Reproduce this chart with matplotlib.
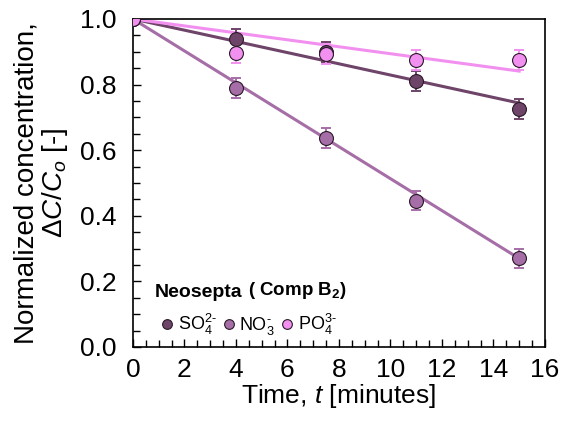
import numpy as np
import matplotlib
matplotlib.use("Agg")
import matplotlib.pyplot as plt
from matplotlib.ticker import MultipleLocator, FormatStrFormatter

plt.rcParams['font.family'] = ['Liberation Sans', 'DejaVu Sans']
plt.rcParams['mathtext.fontset'] = 'custom'
plt.rcParams['mathtext.rm'] = 'Liberation Sans'
plt.rcParams['mathtext.it'] = 'Liberation Sans:italic'
plt.rcParams['mathtext.bf'] = 'Liberation Sans:bold'

# sampling times (minutes)
t = [0, 4, 7.5, 11, 15]

# normalized concentrations per ion
so4 = [1.0, 0.938, 0.900, 0.810, 0.726]
no3 = [1.0, 0.790, 0.638, 0.446, 0.270]
po4 = [1.0, 0.895, 0.893, 0.875, 0.874]
err = [0.0, 0.03, 0.03, 0.03, 0.03]

# linear fits (intercept 1, slope per minute)
slopes = {'so4': -0.0171, 'no3': -0.0487, 'po4': -0.0106}

labels = ['SO$_4^{2\u2010}$', 'NO$_3^{\u2010}$', 'PO$_4^{3\u2010}$']
colors = ['#6e4469', '#a66ea7', '#f290f0']

fig = plt.figure(figsize=(5.63, 4.21), dpi=100)
ax = fig.add_axes([0.236, 0.176, 0.732, 0.779])

t_fit = np.array([0, 15])
for key, y, c, lab in zip(['so4', 'no3', 'po4'], [so4, no3, po4], colors, labels):
    ax.plot(t_fit, 1 + slopes[key] * t_fit, color=c, lw=2.2, zorder=2)
    ax.errorbar(t, y, yerr=err, fmt='none', ecolor=c, elinewidth=1.4,
                capsize=3.6, capthick=1.4, zorder=3)
    ax.plot(t, y, 'o', ms=10, mfc=c, mec='#2a1a28', mew=0.8, zorder=4)

ax.set_xlim(0, 16)
ax.set_ylim(0, 1.0)
ax.xaxis.set_major_locator(MultipleLocator(2))
ax.xaxis.set_minor_locator(MultipleLocator(0.5))
ax.yaxis.set_major_locator(MultipleLocator(0.2))
ax.yaxis.set_minor_locator(MultipleLocator(0.05))
ax.yaxis.set_major_formatter(FormatStrFormatter('%.1f'))
ax.tick_params(which='both', direction='in', top=False, right=False,
               labelsize=19, width=1)
ax.tick_params(which='major', length=6)
ax.tick_params(which='minor', length=5)
ax.tick_params(axis='x', which='major', pad=8)
ax.tick_params(axis='y', which='major', pad=12)
for s in ax.spines.values():
    s.set_linewidth(1.2)

ax.set_xlabel('Time, $t$ [minutes]', fontsize=19, labelpad=0)
ax.set_ylabel('Normalized concentration,\n$\\Delta C/C_o$ [-]', fontsize=20,
              linespacing=1.0, labelpad=7)

# legend heading
head = ax.text(0.053, 0.152, 'Neosepta', transform=ax.transAxes,
               fontsize=14, fontweight='bold', va='baseline')
ax.annotate('( Comp B$_\\mathbf{2}$)', xy=(1, 0), xycoords=head,
            xytext=(4, 0), textcoords='offset points', va='bottom',
            fontsize=13.5, fontweight='bold')

handles = [plt.Line2D([], [], ls='none', marker='o', ms=7, mfc=c,
                      mec='#2a1a28', mew=0.8) for c in colors]
ax.legend(handles=handles, labels=labels, ncol=3, frameon=False, fontsize=13,
          handlelength=0.7, handletextpad=0.25, columnspacing=0.3,
          loc='lower left', bbox_to_anchor=(0.068, 0.03),
          borderaxespad=0, borderpad=0)

fig.savefig('out.png', dpi=100)
